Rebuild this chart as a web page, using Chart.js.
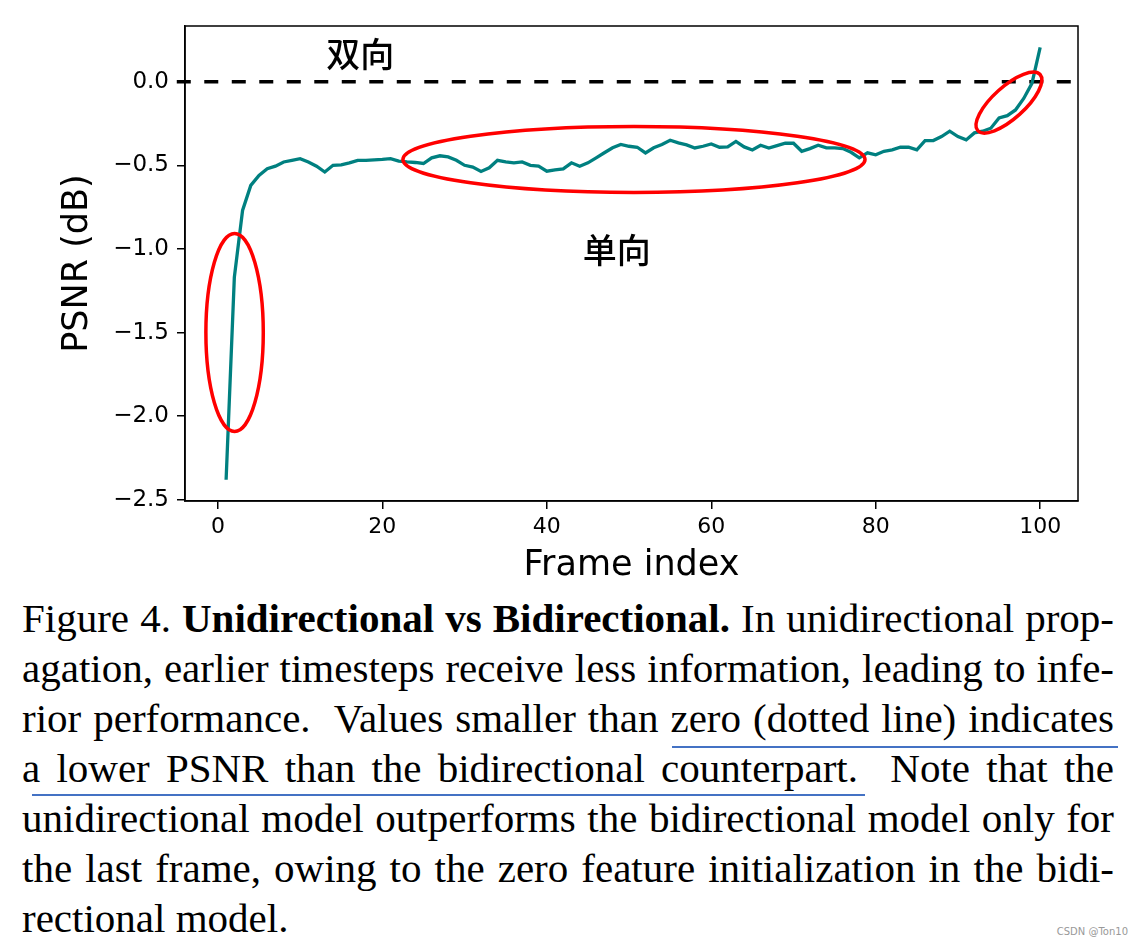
<!DOCTYPE html>
<html>
<head>
<meta charset="utf-8">
<script src="https://cdn.jsdelivr.net/npm/chart.js@4.4.1/dist/chart.umd.min.js"></script>
<style>
html,body{margin:0;padding:0;background:#fff;}
body{width:1141px;height:948px;position:relative;overflow:hidden;}
#c{position:absolute;left:0;top:0;}
.cap{position:absolute;left:22px;top:593px;width:1092px;font-family:"Liberation Serif","Times New Roman",serif;font-size:41px;line-height:50px;color:#000;}
.cap div{text-align:justify;text-align-last:justify;white-space:nowrap;}
.cap div.last{text-align-last:left;}
.ul{position:absolute;height:2px;background:#4472c4;}
#wm{position:absolute;right:13px;top:926px;font-family:"DejaVu Sans",sans-serif;font-size:10px;color:#999;}
</style>
</head>
<body>
<canvas id="c" width="1141" height="590"></canvas>
<div class="cap">
<div>Figure 4. <b>Unidirectional vs Bidirectional.</b> In unidirectional prop-</div>
<div>agation, earlier timesteps receive less information, leading to infe-</div>
<div>rior performance.&nbsp; Values smaller than zero (dotted line) indicates</div>
<div>a lower PSNR than the bidirectional counterpart.&nbsp; Note that the</div>
<div>unidirectional model outperforms the bidirectional model only for</div>
<div>the last frame, owing to the zero feature initialization in the bidi-</div>
<div class="last">rectional model.</div>
</div>
<div class="ul" style="left:672px;top:746px;width:446px;"></div>
<div class="ul" style="left:32px;top:794px;width:833px;"></div>
<div id="wm">CSDN @Ton10</div>
<script>
// ---- data ----
const frames = [1,2,3,4,5,6,7,8,9,10,11,12,13,14,15,16,17,18,19,20,
  21,22,23,24,25,26,27,28,29,30,31,32,33,34,35,36,37,38,39,40,
  41,42,43,44,45,46,47,48,49,50,51,52,53,54,55,56,57,58,59,60,
  61,62,63,64,65,66,67,68,69,70,71,72,73,74,75,76,77,78,79,80,
  81,82,83,84,85,86,87,88,89,90,91,92,93,94,95,96,97,98,99,100];
const psnr = [-2.38,-1.17,-0.77,-0.62,-0.56,-0.52,-0.505,-0.48,-0.47,-0.46,
  -0.48,-0.505,-0.54,-0.50,-0.497,-0.485,-0.47,-0.47,-0.467,-0.465,
  -0.46,-0.475,-0.48,-0.483,-0.489,-0.455,-0.443,-0.45,-0.47,-0.50,
  -0.511,-0.537,-0.515,-0.47,-0.48,-0.485,-0.48,-0.50,-0.505,-0.535,
  -0.527,-0.521,-0.485,-0.505,-0.485,-0.455,-0.425,-0.395,-0.375,-0.386,
  -0.392,-0.426,-0.395,-0.375,-0.35,-0.366,-0.378,-0.396,-0.386,-0.372,
  -0.392,-0.39,-0.357,-0.39,-0.408,-0.38,-0.397,-0.382,-0.368,-0.368,
  -0.416,-0.40,-0.38,-0.396,-0.396,-0.40,-0.422,-0.455,-0.425,-0.437,
  -0.416,-0.408,-0.392,-0.392,-0.408,-0.352,-0.352,-0.328,-0.296,-0.328,
  -0.348,-0.306,-0.296,-0.278,-0.217,-0.203,-0.169,-0.10,-0.01,0.205];
const zeroLineX = [-5, 105];
const zeroLineY = [0, 0];
const xTicks = [0, 20, 40, 60, 80, 100];
const yTicks = [-2.5, -2.0, -1.5, -1.0, -0.5, 0.0];
const noteTexts = ['双向', '单向'];
const noteX = [17.3, 48.5];
const noteY = [0.167, -1.008];
// annotation ellipses (data units, rotation in degrees)
const ellipseCX = [2.03, 50.6, 96.2];
const ellipseCY = [-1.50, -0.465, -0.125];
const ellipseRX = [3.49, 28.1, 5.1];
const ellipseRY = [0.592, 0.197, 0.095];
const ellipseRot = [0, 0, -42];

const fmt = v => (v < 0 ? '\u2212' : '') + Math.abs(v).toFixed(1);

const boxPlugin = {
  id: 'box',
  beforeDatasetsDraw(chart) {
    const {ctx, chartArea: a} = chart;
    ctx.save();
    ctx.strokeStyle = '#000';
    ctx.lineWidth = 1.5;
    ctx.strokeRect(a.left, a.top, a.right - a.left, a.bottom - a.top);
    ctx.restore();
  },
  afterDatasetsDraw(chart) {
    const {ctx} = chart;
    const xs = chart.scales.x, ys = chart.scales.y;
    ctx.save();
    ctx.strokeStyle = '#ff0000';
    ctx.lineWidth = 3.5;
    for (let i = 0; i < ellipseCX.length; i++) {
      const cx = xs.getPixelForValue(ellipseCX[i]);
      const cy = ys.getPixelForValue(ellipseCY[i]);
      const rx = Math.abs(xs.getPixelForValue(ellipseCX[i] + ellipseRX[i]) - cx);
      const ry = Math.abs(ys.getPixelForValue(ellipseCY[i] + ellipseRY[i]) - cy);
      ctx.beginPath();
      ctx.ellipse(cx, cy, rx, ry, ellipseRot[i] * Math.PI / 180, 0, Math.PI * 2);
      ctx.stroke();
    }
    ctx.fillStyle = '#000';
    ctx.font = '500 34px "Noto Sans CJK SC"';
    ctx.textAlign = 'center';
    ctx.textBaseline = 'middle';
    for (let i = 0; i < noteTexts.length; i++) {
      ctx.fillText(noteTexts[i], xs.getPixelForValue(noteX[i]), ys.getPixelForValue(noteY[i]));
    }
    ctx.restore();
  }
};

new Chart(document.getElementById('c'), {
  type: 'line',
  data: {
    datasets: [
      {
        data: frames.map((f, i) => ({x: f, y: psnr[i]})),
        borderColor: '#008080',
        borderWidth: 3.3,
        pointRadius: 0,
        tension: 0,
        fill: false
      },
      {
        data: zeroLineX.map((x, i) => ({x: x, y: zeroLineY[i]})),
        borderColor: '#000',
        borderWidth: 3.5,
        borderDash: [14, 13.5],
        pointRadius: 0,
        fill: false,
        clip: false
      }
    ]
  },
  options: {
    responsive: false,
    animation: false,
    devicePixelRatio: 1,
    layout: {padding: {left: 0, right: 63, top: 26, bottom: 0}},
    plugins: {legend: {display: false}, tooltip: {enabled: false}},
    scales: {
      x: {
        type: 'linear',
        min: -4,
        max: 104.6,
        afterBuildTicks: s => { s.ticks = xTicks.map(v => ({value: v})); },
        afterFit: s => { s.height = 89; },
        grid: {drawOnChartArea: false, drawTicks: true, tickLength: 8, color: '#000', lineWidth: 1.5},
        border: {display: true, color: '#000', width: 1.5},
        ticks: {color: '#000', font: {family: 'DejaVu Sans', size: 22}, padding: 5, maxRotation: 0,
                callback: v => String(v)},
        title: {display: true, text: 'Frame index', color: '#000',
                font: {family: 'DejaVu Sans', size: 35, lineHeight: 1.2}, padding: {top: 0, bottom: 3}}
      },
      y: {
        type: 'linear',
        min: -2.507,
        max: 0.333,
        afterBuildTicks: s => { s.ticks = yTicks.map(v => ({value: v})); },
        afterFit: s => { s.width = 185; },
        grid: {drawOnChartArea: false, drawTicks: true, tickLength: 8, color: '#000', lineWidth: 1.5},
        border: {display: true, color: '#000', width: 1.5},
        ticks: {color: '#000', font: {family: 'DejaVu Sans', size: 23}, padding: 8,
                callback: v => fmt(v)},
        title: {display: true, text: 'PSNR (dB)', color: '#000',
                font: {family: 'DejaVu Sans', size: 35, lineHeight: 1.2}, padding: {top: 57, bottom: 0}}
      }
    }
  },
  plugins: [boxPlugin]
});
</script>
</body>
</html>
